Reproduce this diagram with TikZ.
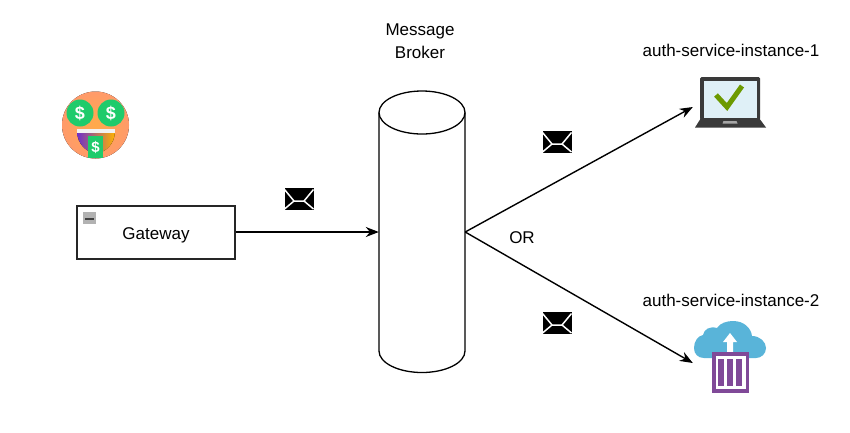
\documentclass[tikz,border=0pt]{standalone}
\usepackage{fontspec}
\setmainfont{Liberation Sans}
\usetikzlibrary{arrows.meta,positioning}
\definecolor{skinorange}{HTML}{FFAA4A}
\definecolor{skinpink}{HTML}{FF9A6A}
\definecolor{moneygreen}{HTML}{1FCB6B}
\definecolor{mouthpurple}{HTML}{6F2FC9}
\definecolor{mouthyellow}{HTML}{FFB300}
\definecolor{screenblue}{HTML}{DFF0F7}
\definecolor{laptopgray}{HTML}{3A3A3A}
\definecolor{tickgreen}{HTML}{6C9A00}
\definecolor{cloudblue}{HTML}{59B4D9}
\definecolor{boxpurple}{HTML}{804998}
\tikzset{
	label/.style={font=\fontsize{17}{23}\selectfont, text=black, align=center, inner sep=0pt},
	gatewaybox/.style={draw=black!85, line width=1.8pt, fill=white, minimum width=158pt, minimum height=53pt, inner sep=0pt, text height=18pt, text depth=3.6pt, font=\fontsize{17}{20}\selectfont},
	flow/.style={line width=1.4pt, -{Stealth[length=13pt,width=10pt]}},
	envelope/.pic={
		\fill[black] (-14.5,-11) rectangle (14.5,11);
		\draw[white,line width=1.5pt] (-14.5,-9.5) -- (-5,2) -- (5,2) -- (14.5,-9.5);
		\draw[white,line width=1.5pt] (-14.5,10) -- (-5,2);
		\draw[white,line width=1.5pt] (14.5,10) -- (5,2);
	},
	dollar/.style={font=\fontsize{#1}{#1}\selectfont\bfseries, text=white, inner sep=0pt}
}
\begin{document}
\begin{tikzpicture}[x=1pt,y=-1pt]
\pgfmathsetmacro{\brokerrx}{43}
\pgfmathsetmacro{\brokerry}{21.5}
\useasboundingbox (0,0) rectangle (850,432);
\fill[white] (0,0) rectangle (850,432);

% money face
\fill[inner color=skinorange, outer color=skinpink] (95.5,125) circle (33.5);
\foreach \x in {80,111} {
	\fill[moneygreen] (\x,113) circle (13.5);
	\node[dollar=18] (eye\x) at (\x,113) {\$};
}
\fill[left color=mouthpurple, right color=mouthyellow] (77,131) -- (115,131) .. controls (115,144) and (105,153) .. (96,153) .. controls (87,153) and (77,144) .. (77,131) -- cycle;
\fill[white!90!gray] (77,129) rectangle (115,133);
\fill[moneygreen] (88,136) rectangle (103,157.5);
\node[dollar=15] (tongue) at (95.5,147) {\$};

% gateway
\node[gatewaybox] (gateway) at (156,232.5) {Gateway};
\fill[gray!60] (83,212) rectangle (96,224);
\fill[black!75] (85,217.5) rectangle (94,220);

% broker
\node[minimum width=86pt, minimum height=281pt, inner sep=0pt] (broker) at (422,232) {};
\draw[line width=1.3pt,fill=white] (379,112.5) -- (379,351) arc[start angle=180, end angle=360, x radius=\brokerrx, y radius=-\brokerry] -- (465,112.5);
\draw[line width=1.3pt] (422,112.5) ellipse[x radius=\brokerrx, y radius=\brokerry];
\node[label] (brokerlabel) at (420,41) {Message\\Broker};

% instances
\node[label] (instanceone) at (731,50) {auth-service-instance-1};
\node[label] (instancetwo) at (731,300) {auth-service-instance-2};
\node[inner sep=0pt, minimum width=72pt, minimum height=52pt] (laptop) at (729,107) {};
\node[inner sep=0pt, minimum width=72pt, minimum height=72pt] (cloud) at (729,363) {};

% laptop
\fill[laptopgray, rounded corners=1.5pt] (700,77) -- (760,77) -- (760,120) -- (700,120) -- cycle;
\fill[laptopgray] (701,118) -- (759,118) -- (766,127.5) -- (695,127.5) -- cycle;
\fill[screenblue] (704,80.5) rectangle (757,118);
\draw[tickgreen, line width=5pt] (716,95) -- (727,107) -- (742,86);
\fill[gray!70] (723.5,121) -- (736.5,121) -- (737.5,123.5) -- (722.5,123.5) -- cycle;

% cloud
\fill[cloudblue] (694,348) .. controls (694,341) and (698,336) .. (703,335) .. controls (704,329) and (710,326) .. (717,328)
	.. controls (720,323) and (727,321) .. (733,321) .. controls (744,321) and (751,328) .. (752,336)
	.. controls (760,336) and (766,342) .. (766,348) .. controls (766,354) and (761,358) .. (756,358) -- (704,358) .. controls (698,358) and (694,354) .. (694,348) -- cycle;
\fill[white] (727,353) -- (727,342) -- (723,342) -- (730,333) -- (737,342) -- (733,342) -- (733,353) -- cycle;
\fill[boxpurple] (712,352) rectangle (749,392.5);
\fill[white] (715.5,356) rectangle (745.5,389);
\foreach \x in {718,727,736} {
	\fill[boxpurple] (\x,359) rectangle ++(6,27);
}

% connectors
\draw[flow] (gateway.east |- broker.west) -- (broker.west);
\draw[flow] (broker.east) -- (laptop.west);
\draw[flow] (broker.east) -- (cloud.west);
\node[label] (orlabel) at (522,238) {OR};

% messages
\foreach \px/\py/\name in {299/199/msga, 557/142/msgb, 557/323/msgc} {
	\pic (\name) at (\px,\py) {envelope};
}
\end{tikzpicture}
\end{document}
